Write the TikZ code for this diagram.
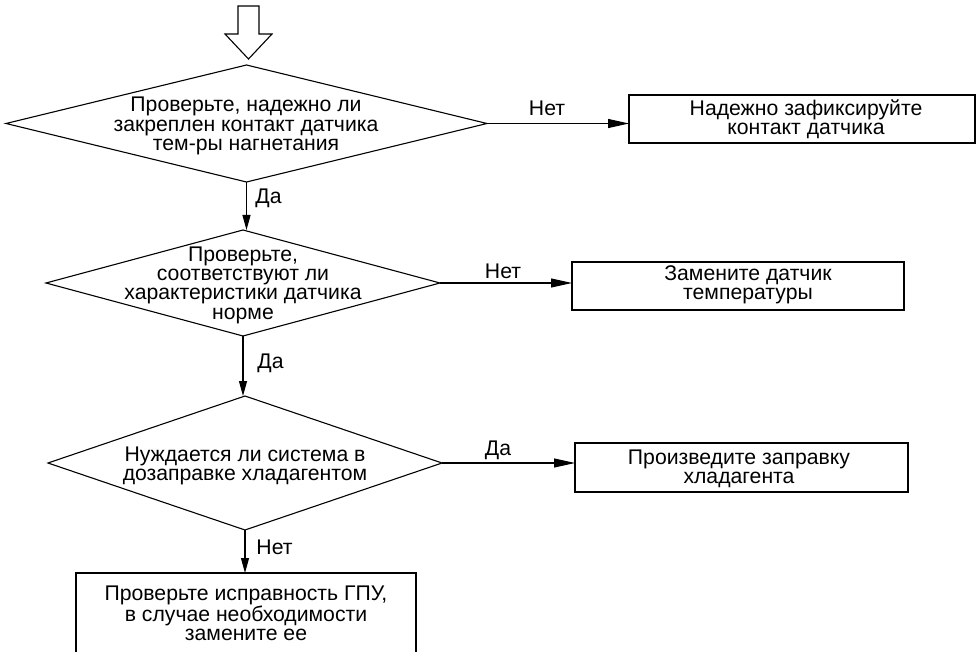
\documentclass[tikz,border=0pt]{standalone}
\usepackage{fontspec}
\setmainfont{Liberation Sans}
\usetikzlibrary{shapes.geometric,arrows.meta,calc}
\newcommand{\fs}{\fontsize{21.2}{19.3}\selectfont}
\tikzset{
  dia/.style={shape=diamond, draw, line width=1.1pt, inner sep=0pt, outer sep=0pt},
  boxn/.style={draw, line width=1.1pt, inner sep=0pt, outer sep=0pt},
  txt/.style={align=center, font=\fs, inner sep=0pt},
  lbl/.style={font=\fs, inner sep=0pt},
  harr/.style={-{Triangle[length=21pt,width=9pt]}, line width=1.1pt},
  varr/.style={-{Triangle[length=15pt,width=8pt]}, line width=1.1pt},
}
\begin{document}
\begin{tikzpicture}[x=1pt,y=-1pt]
\useasboundingbox (0,0) rectangle (976,652);
% hollow entry arrow
\draw[line width=1.1pt, line join=miter] (238,6) -- (259,6) -- (259,34) -- (272,34) -- (248.5,59) -- (225,34) -- (238,34) -- cycle;
% decisions
\node[dia, minimum width=481pt, minimum height=117pt] (d1) at (246.5,123.5) {};
\node[txt] (t1) at (246,126) {Проверьте, надежно ли\\закреплен контакт датчика\\тем-ры нагнетания};
\node[dia, minimum width=394pt, minimum height=106pt] (d2) at (243,283) {};
\node[txt] (t2) at (243,285) {Проверьте,\\соответствуют ли\\характеристики датчика\\норме};
\node[dia, minimum width=394pt, minimum height=134pt] (d3) at (245,463) {};
\node[txt] (t3) at (245,466) {Нуждается ли система в\\дозаправке хладагентом};
% action boxes
\node[boxn, minimum width=346pt, minimum height=48pt] (b1) at (802,119) {};
\node[txt] (tb1) at (806,119.5) {Надежно зафиксируйте\\контакт датчика};
\node[boxn, minimum width=332pt, minimum height=48pt] (b2) at (738,286) {};
\node[txt] (tb2) at (748,285) {Замените датчик\\температуры};
\node[boxn, minimum width=333pt, minimum height=49pt] (b3) at (741.5,467.5) {};
\node[txt] (tb3) at (739,469) {Произведите заправку\\хладагента};
\node[boxn, line width=2pt, minimum width=340pt, minimum height=110pt] (b4) at (246,628) {};
\node[txt] (tb4) at (246,613) {Проверьте исправность ГПУ,\\в случае необходимости\\замените ее};
% connectors
\draw[harr] (d1.east) -- (d1.east -| b1.west);
\draw[harr] (d2.east) -- (d2.east -| b2.west);
\draw[harr] (d3.east) -- (d3.east -| b3.west);
\draw[varr] (d1.south) -- (d1.south |- d2.north);
\draw[varr] (d2.south) -- (d2.south |- d3.north);
\draw[varr] (d3.south) -- (d3.south |- b4.north);
% labels
\node[lbl] (n1) at (547,108) {Нет};
\node[lbl] (n2) at (503,271) {Нет};
\node[lbl] (y3) at (498,450) {Да};
\node[lbl] (y1) at (268.5,198) {Да};
\node[lbl] (y2) at (270.5,363) {Да};
\node[lbl] (n3) at (274.5,547) {Нет};
\end{tikzpicture}
\end{document}
